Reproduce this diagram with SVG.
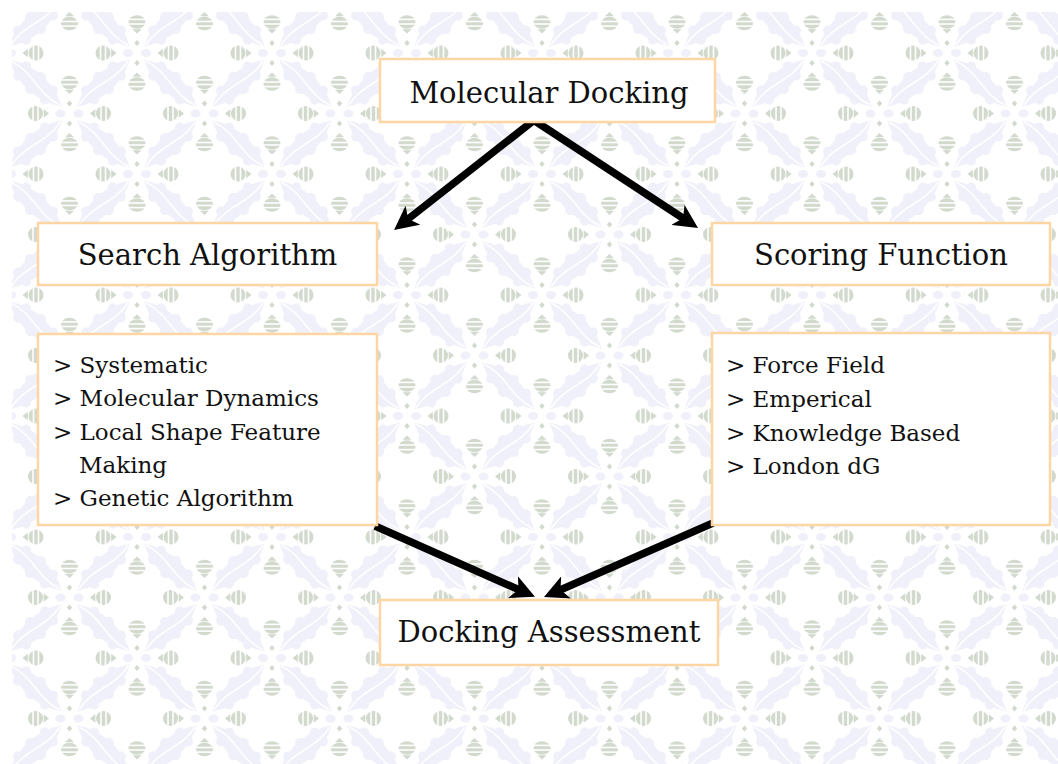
<svg xmlns="http://www.w3.org/2000/svg" xmlns:xlink="http://www.w3.org/1999/xlink" width="1058" height="764" viewBox="0 0 1058 764">
  <style>
    .box { fill: #ffffff; stroke: #fdd6a4; stroke-width: 2.5; }
    .title { font-family: "DejaVu Serif", "Liberation Serif", serif; font-size: 29px; fill: #111111; text-anchor: middle; }
    .item { font-family: "DejaVu Serif", "Liberation Serif", serif; font-size: 23px; fill: #111111; }
    .link { fill: none; stroke: #000000; stroke-width: 7.5; marker-end: url(#head); }
    .lav { fill: #f0f0fa; }
    .sage { fill: #d2d9cd; }
  </style>
  <defs>
    <marker id="head" viewBox="0 0 24 24" markerWidth="24" markerHeight="24" refX="12" refY="12" orient="auto" markerUnits="userSpaceOnUse">
      <path d="M0,0 L24,12 L0,24 L6,12 Z" fill="#000000"/>
    </marker>

    <!-- one lavender diagonal band of the wallpaper -->
    <g id="band">
      <path class="lav" d="M10,0 C30,-13 60,-13 80,0 C60,13 30,13 10,0 Z"/>
      <circle class="lav" cx="27" cy="-6" r="5"/>
      <circle class="lav" cx="45" cy="-7.5" r="5.5"/>
      <circle class="lav" cx="63" cy="-6" r="5"/>
      <circle class="lav" cx="27" cy="6" r="5"/>
      <circle class="lav" cx="45" cy="7.5" r="5.5"/>
      <circle class="lav" cx="63" cy="6" r="5"/>
      <path d="M12,0 C35,-7 55,7 78,0" fill="none" stroke="#ffffff" stroke-width="1.6"/>
    </g>

    <!-- small flower with four striped satellites -->
    <g id="flower">
      <ellipse class="lav" cx="-9" cy="0" rx="5" ry="4"/>
      <ellipse class="lav" cx="9" cy="0" rx="5" ry="4"/>
      <path class="sage" d="M0,-13 L2.6,-10 L0,-7 L-2.6,-10 Z"/>
      <path class="sage" d="M0,7 L2.6,10 L0,13 L-2.6,10 Z"/>
      <!-- left / right -->
      <circle class="sage" cx="-34" cy="0" r="7.5"/>
      <rect x="-37.3" y="-8" width="1.6" height="16" fill="#fff"/>
      <rect x="-32.3" y="-8" width="1.6" height="16" fill="#fff"/>
      <path class="sage" d="M-25.8,-4.2 L-20.5,0 L-25.8,4.2 Z"/>
      <circle class="sage" cx="34" cy="0" r="7.5"/>
      <rect x="35.7" y="-8" width="1.6" height="16" fill="#fff"/>
      <rect x="30.7" y="-8" width="1.6" height="16" fill="#fff"/>
      <path class="sage" d="M25.8,-4.2 L20.5,0 L25.8,4.2 Z"/>
      <!-- top / bottom -->
      <ellipse class="sage" cx="0" cy="-31" rx="8.5" ry="6.8"/>
      <rect x="-9" y="-34.4" width="18" height="1.6" fill="#fff"/>
      <rect x="-9" y="-29.8" width="18" height="1.6" fill="#fff"/>
      <path class="sage" d="M-4.5,-23.8 L0,-19.5 L4.5,-23.8 Z"/>
      <ellipse class="sage" cx="0" cy="31" rx="8.5" ry="6.8"/>
      <rect x="-9" y="32.8" width="18" height="1.6" fill="#fff"/>
      <rect x="-9" y="28.2" width="18" height="1.6" fill="#fff"/>
      <path class="sage" d="M-4.5,23.8 L0,19.5 L4.5,23.8 Z"/>
    </g>

    <pattern id="wallpaper" patternUnits="userSpaceOnUse" x="2" y="53" width="135" height="121">
      <rect width="135" height="121" fill="#ffffff"/>
      <use xlink:href="#band" transform="translate(0,0) rotate(41.87)"/>
      <use xlink:href="#band" transform="translate(135,0) rotate(138.13)"/>
      <use xlink:href="#band" transform="translate(0,121) rotate(-41.87)"/>
      <use xlink:href="#band" transform="translate(135,121) rotate(-138.13)"/>
      <use xlink:href="#flower" transform="translate(0,0)"/>
      <use xlink:href="#flower" transform="translate(135,0)"/>
      <use xlink:href="#flower" transform="translate(0,121)"/>
      <use xlink:href="#flower" transform="translate(135,121)"/>
      <use xlink:href="#flower" transform="translate(67.5,60.5)"/>
    </pattern>
  </defs>

  <!-- page -->
  <rect x="0" y="0" width="1058" height="764" fill="#ffffff"/>
  <rect x="12" y="12" width="1046" height="752" fill="url(#wallpaper)"/>

  <g id="connectors">
    <line class="link" x1="533" y1="121" x2="403.5" y2="222.6"/>
    <line class="link" x1="535" y1="121" x2="688" y2="221.5"/>
    <line class="link" x1="375" y1="526" x2="524" y2="592"/>
    <line class="link" x1="713" y1="523" x2="555" y2="592.2"/>
  </g>

  <g id="molecular-docking">
    <rect class="box" x="380" y="59" width="335" height="63"/>
    <text class="title" x="549" y="103">Molecular Docking</text>
  </g>

  <g id="search-algorithm">
    <rect class="box" x="38" y="223" width="339" height="62"/>
    <text class="title" x="207.5" y="265">Search Algorithm</text>
  </g>

  <g id="scoring-function">
    <rect class="box" x="712" y="223" width="338" height="62"/>
    <text class="title" x="881" y="265">Scoring Function</text>
  </g>

  <g id="search-methods">
    <rect class="box" x="38" y="334" width="339" height="191"/>
    <text class="item" x="53" y="373">&gt; Systematic</text>
    <text class="item" x="53" y="406">&gt; Molecular Dynamics</text>
    <text class="item" x="53" y="440">&gt; Local Shape Feature</text>
    <text class="item" x="79" y="473">Making</text>
    <text class="item" x="53" y="506">&gt; Genetic Algorithm</text>
  </g>

  <g id="scoring-methods">
    <rect class="box" x="712" y="333" width="338" height="192"/>
    <text class="item" x="726" y="373">&gt; Force Field</text>
    <text class="item" x="726" y="407">&gt; Emperical</text>
    <text class="item" x="726" y="441">&gt; Knowledge Based</text>
    <text class="item" x="726" y="474">&gt; London dG</text>
  </g>

  <g id="docking-assessment">
    <rect class="box" x="380" y="600" width="338" height="65"/>
    <text class="title" x="549" y="642">Docking Assessment</text>
  </g>
</svg>
